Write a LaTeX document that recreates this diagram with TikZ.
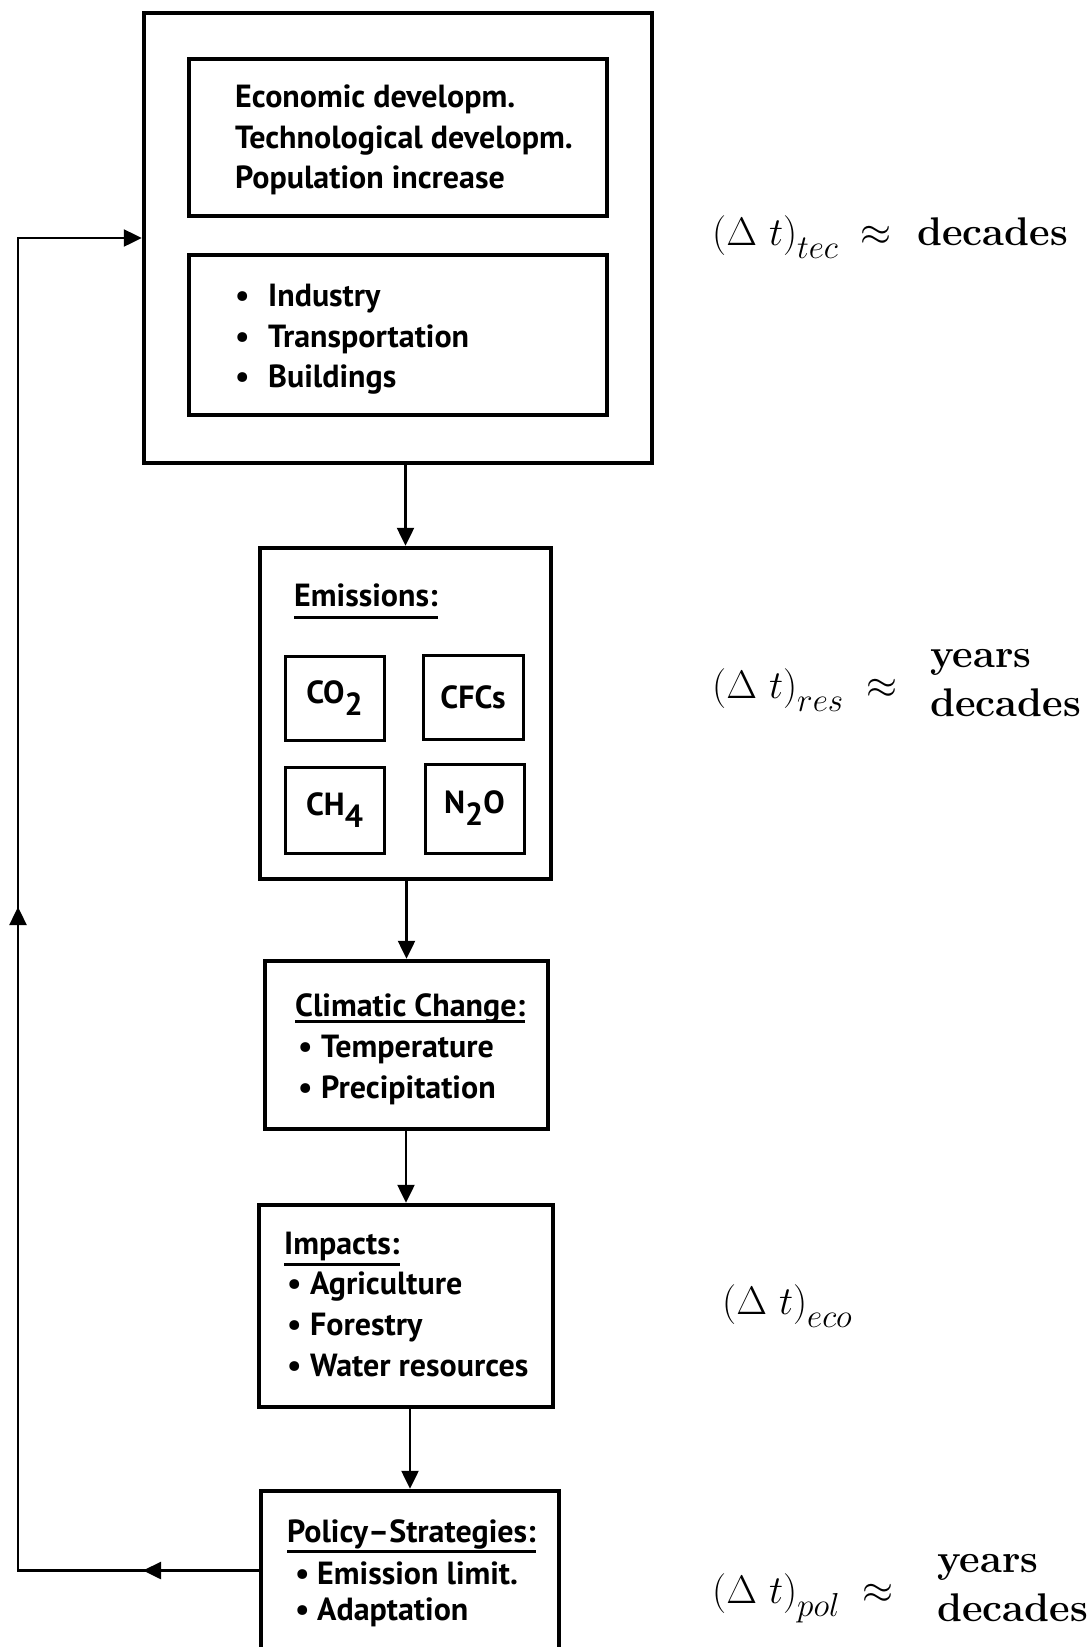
\documentclass[tikz,border=0pt]{standalone}
\usepackage{graphicx}
\usepackage{fontspec}
\usetikzlibrary{arrows.meta,calc}
\newfontfamily\bxfont{PT Sans}
\newcommand{\bulw}[1]{\makebox[#1][l]{\textbullet}}
\newcommand{\mydt}[2]{\scalebox{1.6}{\fontsize{24.88}{30}\selectfont$(\Delta\ t)_{\lower5pt\hbox{$\scriptstyle #1$}}#2$}}
\begin{document}
\begin{tikzpicture}[x=1pt,y=-1pt,
  bx/.style={draw, line width=4.5pt, inner sep=0pt},
  sbx/.style={draw, line width=3pt, inner sep=0pt, font=\bxfont\bfseries\fontsize{32}{36}\selectfont},
  txt/.style={anchor=base west, inner sep=0pt, font=\bxfont\bfseries\fontsize{32}{41}\selectfont},
  conn/.style={line width=2.5pt},
  arr/.style={line width=2.5pt, -{Triangle[length=18pt,width=17pt]}},
  ul/.style={line width=3pt},
  lab/.style={anchor=base west, inner sep=0pt},
  wrd/.style={anchor=base west, inner sep=0pt, font=\bfseries\fontsize{40}{44}\selectfont}]

\useasboundingbox (0,0) rectangle (1092,1647);

% top block
\node[bx, minimum width=508pt, minimum height=450pt] (tech) at (398,238) {};
\node[bx, minimum width=418pt, minimum height=157pt] (dev) at (398,137.5) {};
\node[bx, minimum width=418pt, minimum height=160pt] (sect) at (398,335) {};
\node[txt] (d1) at (235,107) {Economic developm.};
\node[txt] (d2) at (235,148) {Technological developm.};
\node[txt] (d3) at (235,188) {Population increase};
\node[txt] (s1) at (235,306) {\bulw{33pt}Industry};
\node[txt] (s2) at (235,347) {\bulw{33pt}Transportation};
\node[txt] (s3) at (235,387) {\bulw{33pt}Buildings};

% emissions
\node[bx, minimum width=291pt, minimum height=331pt] (emis) at (405.5,713.5) {};
\node[txt] (emt) at (294,606) {Emissions:};
\draw[ul] ($(emt.base west)+(0,11)$) -- ($(emt.base east)+(0,11)$);
\node[sbx, minimum width=99pt, minimum height=84pt] (co2) at (334.5,698) {CO\raisebox{-12pt}{2}};
\node[sbx, minimum width=100pt, minimum height=84pt] (cfc) at (473,697) {CFCs};
\node[sbx, minimum width=99pt, minimum height=86pt] (ch4) at (334.5,810) {CH\raisebox{-12pt}{4}};
\node[sbx, minimum width=99pt, minimum height=89pt] (n2o) at (474.5,808.5) {N\raisebox{-12pt}{2}O};

% climatic change
\node[bx, minimum width=283pt, minimum height=168pt] (clim) at (406.5,1045) {};
\node[txt] (clt) at (295,1016) {Climatic Change:};
\draw[ul] ($(clt.base west)+(0,5)$) -- ($(clt.base east)+(0,5)$);
\node[txt] (cl1) at (298,1057) {\bulw{23pt}Temperature};
\node[txt] (cl2) at (298,1098) {\bulw{23pt}Precipitation};

% impacts
\node[bx, minimum width=294pt, minimum height=202pt] (imp) at (406,1306) {};
\node[txt] (imt) at (284,1254) {Impacts:};
\draw[ul] ($(imt.base west)+(0,10)$) -- ($(imt.base east)+(0,10)$);
\node[txt] (im1) at (287,1294) {\bulw{23pt}Agriculture};
\node[txt] (im2) at (287,1335) {\bulw{23pt}Forestry};
\node[txt] (im3) at (287,1376) {\bulw{23pt}Water resources};

% policy
\node[bx, minimum width=298pt, minimum height=159pt] (pol) at (410,1570.5) {};
\node[txt] (pot) at (287,1542) {Policy\textendash Strategies:};
\draw[ul] ($(pot.base west)+(0,9)$) -- ($(pot.base east)+(0,9)$);
\node[txt] (po1) at (295,1584) {\bulw{22pt}Emission limit.};
\node[txt] (po2) at (295,1620) {\bulw{22pt}Adaptation};

% connectors
\draw[arr] (emis.north |- tech.south) -- (emis.north);
\draw[arr] (clim.north |- emis.south) -- (clim.north);
\draw[arr] (imp.north |- clim.south) -- (imp.north);
\draw[arr] (pol.north |- imp.south) -- (pol.north);

% feedback
\coordinate (c1) at (18,1570.5);
\coordinate (m1) at (143,1570.5);
\coordinate (m2) at (18,907);
\draw[arr] (pol.west) -- (c1) |- (tech.west);
\draw[arr] (pol.west) -- (m1);
\draw[arr] (c1) -- (m2);

% time scales
\node[lab] (ttec) at (712,245) {\mydt{tec}{\;\approx}};
\node[wrd] (dtec) at (917,245) {decades};
\node[lab] (tres) at (712,698) {\mydt{res}{\;\approx}};
\node[wrd] (yres) at (930,667) {years};
\node[wrd] (dres) at (930,716) {decades};
\node[lab] (teco) at (722,1314) {\mydt{eco}{}};
\node[lab] (tpol) at (712,1603) {\mydt{pol}{\;\approx}};
\node[wrd] (ypol) at (937,1572) {years};
\node[wrd] (dpol) at (937,1621) {decades};
\end{tikzpicture}
\end{document}
